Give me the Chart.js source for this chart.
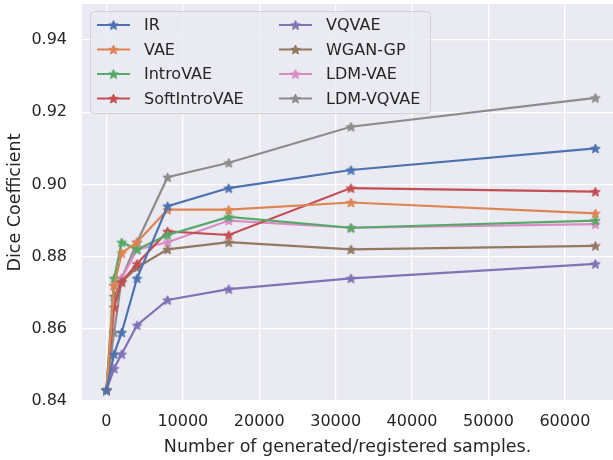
<!DOCTYPE html>
<html>
<head>
<meta charset="utf-8">
<script src="https://cdn.jsdelivr.net/npm/chart.js@4.4.1/dist/chart.umd.min.js"></script>
<style>
html,body{margin:0;padding:0;background:#fff;overflow:hidden;}
#wrap{width:613px;height:460px;position:relative;}
</style>
</head>
<body>
<div id="wrap"><canvas id="c" width="613" height="460"></canvas></div>
<script>
// ---- data ----
const xValues = [0, 1000, 2000, 4000, 8000, 16000, 32000, 64000];
const seriesNames = ['IR', 'VAE', 'IntroVAE', 'SoftIntroVAE', 'VQVAE', 'WGAN-GP', 'LDM-VAE', 'LDM-VQVAE'];
const IR           = [0.843, 0.853, 0.859, 0.874, 0.894, 0.899, 0.904, 0.910];
const VAE          = [0.843, 0.872, 0.881, 0.884, 0.893, 0.893, 0.895, 0.892];
const IntroVAE     = [0.843, 0.874, 0.884, 0.882, 0.886, 0.891, 0.888, 0.890];
const SoftIntroVAE = [0.843, 0.866, 0.873, 0.878, 0.887, 0.886, 0.899, 0.898];
const VQVAE        = [0.843, 0.849, 0.853, 0.861, 0.868, 0.871, 0.874, 0.878];
const WGAN_GP      = [0.843, 0.869, 0.873, 0.877, 0.882, 0.884, 0.882, 0.883];
const LDM_VAE      = [0.843, 0.872, 0.874, 0.882, 0.884, 0.890, 0.888, 0.889];
const LDM_VQVAE    = [0.843, 0.859, 0.874, 0.884, 0.902, 0.906, 0.916, 0.924];
const xTicks = [0, 10000, 20000, 30000, 40000, 50000, 60000];
const yTicks = [0.84, 0.86, 0.88, 0.90, 0.92, 0.94];

const seriesValues = [IR, VAE, IntroVAE, SoftIntroVAE, VQVAE, WGAN_GP, LDM_VAE, LDM_VQVAE];
const colors = ['#4C72B0', '#DD8452', '#55A868', '#C44E52', '#8172B3', '#937860', '#DA8BC3', '#8C8C8C'];

function makeStar(color, r) {
  const s = Math.ceil(2 * r + 3);
  const c = document.createElement('canvas');
  c.width = s; c.height = s;
  const ctx = c.getContext('2d');
  const cx = s / 2, cy = s / 2 + r * 0.1;
  ctx.beginPath();
  for (let i = 0; i < 10; i++) {
    const a = -Math.PI / 2 + i * Math.PI / 5;
    const rad = (i % 2 === 0) ? r : r * 0.45;
    const px = cx + rad * Math.cos(a), py = cy + rad * Math.sin(a);
    if (i === 0) ctx.moveTo(px, py); else ctx.lineTo(px, py);
  }
  ctx.closePath();
  ctx.fillStyle = color;
  ctx.fill();
  ctx.lineWidth = 1;
  ctx.strokeStyle = color;
  ctx.stroke();
  return c;
}
const stars = colors.map(c => makeStar(c, 5));

const datasets = seriesNames.map((name, i) => ({
  label: name,
  data: xValues.map((x, j) => ({ x: x, y: seriesValues[i][j] })),
  borderColor: colors[i],
  backgroundColor: colors[i],
  borderWidth: 2.2,
  pointStyle: stars[i],
  pointRadius: 5,
  pointHoverRadius: 5,
  tension: 0,
  fill: false
}));

const textColor = '#262626';
const FONT = '"DejaVu Sans", sans-serif';

const bgPlugin = {
  id: 'bg',
  beforeDraw(chart) {
    const { ctx, chartArea: a } = chart;
    ctx.save();
    ctx.fillStyle = '#EAEAF2';
    ctx.fillRect(a.left, a.top, a.right - a.left, a.bottom - a.top);
    ctx.restore();
  }
};

const legendPlugin = {
  id: 'customLegend',
  afterDraw(chart) {
    const ctx = chart.ctx;
    ctx.save();
    const bx = 90.5, by = 11.5, bw = 340, bh = 102;
    ctx.beginPath();
    ctx.roundRect(bx, by, bw, bh, 4);
    ctx.fillStyle = 'rgba(234,234,242,0.8)';
    ctx.fill();
    ctx.strokeStyle = 'rgba(204,204,204,0.8)';
    ctx.lineWidth = 1;
    ctx.stroke();
    const rowsY = [25, 49.5, 74, 98.5];
    const colX = [97, 279];
    ctx.font = '16px ' + FONT;
    ctx.textBaseline = 'middle';
    ctx.textAlign = 'left';
    chart.data.datasets.forEach((ds, i) => {
      const col = Math.floor(i / 4), row = i % 4;
      const x0 = colX[col], y = rowsY[row];
      ctx.strokeStyle = ds.borderColor;
      ctx.lineWidth = 2.2;
      ctx.beginPath();
      ctx.moveTo(x0, y);
      ctx.lineTo(x0 + 33, y);
      ctx.stroke();
      const img = ds.pointStyle;
      ctx.drawImage(img, x0 + 16.5 - img.width / 2, y - img.height / 2);
      ctx.fillStyle = textColor;
      ctx.fillText(ds.label, x0 + 47, y + 1);
    });
    ctx.restore();
  }
};

new Chart(document.getElementById('c'), {
  type: 'line',
  data: { datasets },
  plugins: [bgPlugin, legendPlugin],
  options: {
    responsive: false,
    animation: false,
    devicePixelRatio: 1,
    layout: { autoPadding: false, padding: { top: 4, right: 0, left: 0, bottom: 0 } },
    plugins: { legend: { display: false }, tooltip: { enabled: false } },
    scales: {
      x: {
        type: 'linear',
        min: -3200,
        max: 66300,
        border: { display: false },
        grid: { color: '#ffffff', lineWidth: 1.3, drawTicks: false },
        afterBuildTicks(scale) { scale.ticks = xTicks.map(v => ({ value: v })); },
        afterFit(scale) { scale.height = 59; scale.paddingLeft = 0; scale.paddingRight = 0; },
        ticks: {
          color: textColor,
          font: { family: FONT, size: 16 },
          padding: 11,
          maxRotation: 0,
          callback: v => String(v)
        },
        title: {
          display: true,
          text: 'Number of generated/registered samples.',
          color: textColor,
          font: { family: FONT, size: 17.5 },
          padding: { top: 0, bottom: 2 }
        }
      },
      y: {
        type: 'linear',
        min: 0.84,
        max: 0.95,
        border: { display: false },
        grid: { color: '#ffffff', lineWidth: 1.3, drawTicks: false },
        afterBuildTicks(scale) { scale.ticks = yTicks.map(v => ({ value: v })); },
        afterFit(scale) { scale.width = 82; scale.paddingTop = 0; scale.paddingBottom = 0; },
        ticks: {
          color: textColor,
          font: { family: FONT, size: 16 },
          padding: 15,
          callback: v => Number(v).toFixed(2)
        },
        title: {
          display: true,
          text: 'Dice Coefficient',
          color: textColor,
          font: { family: FONT, size: 17.5 },
          padding: { top: 5, bottom: 0 }
        }
      }
    }
  }
});
</script>
</body>
</html>
